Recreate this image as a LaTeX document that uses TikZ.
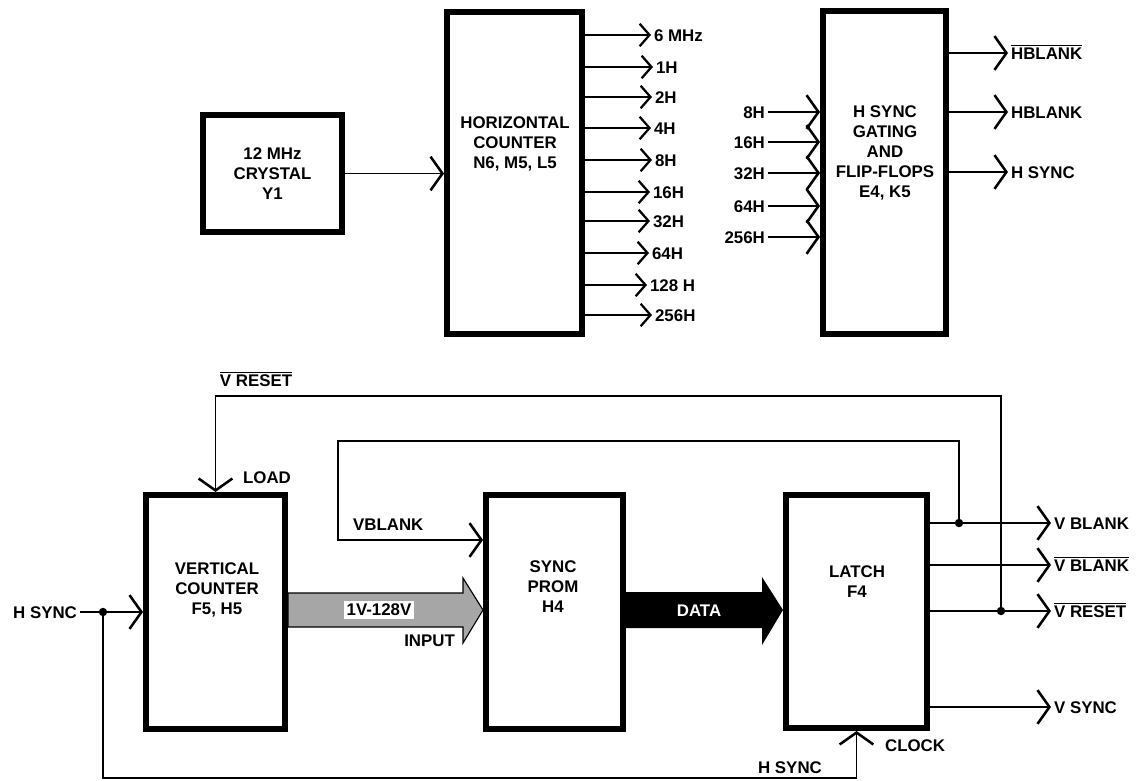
\documentclass[tikz,border=0pt]{standalone}
\usepackage{fontspec}
\setmainfont{Liberation Sans}
\usepackage{tikz}
\usetikzlibrary{arrows.meta}
\newcommand{\ovl}[1]{$\overline{\hbox{#1}}$}

\begin{document}
\begin{tikzpicture}[x=0.025cm,y=-0.025cm,
	every node/.style={font=\fontsize{12}{14.2}\selectfont\bfseries},
	blk/.style={draw=black,line width=4.2pt,inner sep=0pt,align=center},
	txt/.style={align=center,inner sep=0pt},
	lbl/.style={text height=8.6pt,text depth=0pt,inner sep=2pt},
	wire/.style={line width=1.2pt},
	tip/.style={wire,-{Straight Barb[length=8.5pt,width=24pt,line width=1.8pt]}},
	stip/.style={wire,-{Straight Barb[length=7pt,width=16pt,line width=1.6pt]}},
	dot/.style={circle,fill=black,inner sep=0pt,minimum size=6pt}]
	\useasboundingbox (0,0) rectangle (1136,781);

	\node[blk,minimum width=3.475cm,minimum height=2.925cm] (xtal) at (272.5,173.5) {12 MHz\\CRYSTAL\\Y1};
	\node[blk,minimum width=3.375cm,minimum height=8.05cm] (hc) at (514.5,173) {};
	\node[txt] (hct) at (515,144) {HORIZONTAL\\COUNTER\\N6, M5, L5};
	\node[blk,minimum width=3.075cm,minimum height=8.075cm] (hsg) at (884.5,172.5) {};
	\node[txt] (hsgt) at (885,153) {H SYNC\\GATING\\AND\\FLIP-FLOPS\\E4, K5};
	\node[blk,minimum width=3.475cm,minimum height=5.85cm] (vc) at (215.5,612) {};
	\node[txt] (vct) at (217,590) {VERTICAL\\COUNTER\\F5, H5};
	\node[blk,minimum width=3.425cm,minimum height=5.85cm] (prom) at (554.5,612) {};
	\node[txt] (promt) at (553,587) {SYNC\\PROM\\H4};
	\node[blk,minimum width=3.525cm,minimum height=5.825cm] (latch) at (856.5,611.5) {};
	\node[txt] (latcht) at (857,582) {LATCH\\F4};

	\path [tip] (xtal.east) edge (xtal.east -| hc.west);

	\node[lbl,anchor=west] (o6) at (651,35) {6 MHz};
	\node[lbl,anchor=west] (o1) at (653,67) {1H};
	\node[lbl,anchor=west] (o2) at (652,97) {2H};
	\node[lbl,anchor=west] (o4) at (651,128) {4H};
	\node[lbl,anchor=west] (o8) at (652,160) {8H};
	\node[lbl,anchor=west] (o16) at (650,192) {16H};
	\node[lbl,anchor=west] (o32) at (650,221) {32H};
	\node[lbl,anchor=west] (o64) at (649,253) {64H};
	\node[lbl,anchor=west] (o128) at (647,285) {128 H};
	\node[lbl,anchor=west] (o256) at (652,315) {256H};
	\path [stip] (o6 -| hc.east) edge (o6.west);
	\path [stip] (o1 -| hc.east) edge (o1.west);
	\path [stip] (o2 -| hc.east) edge (o2.west);
	\path [stip] (o4 -| hc.east) edge (o4.west);
	\path [stip] (o8 -| hc.east) edge (o8.west);
	\path [stip] (o16 -| hc.east) edge (o16.west);
	\path [stip] (o32 -| hc.east) edge (o32.west);
	\path [stip] (o64 -| hc.east) edge (o64.west);
	\path [stip] (o128 -| hc.east) edge (o128.west);
	\path [stip] (o256 -| hc.east) edge (o256.west);

	\node[lbl,anchor=east] (i8) at (768,112) {8H};
	\node[lbl,anchor=east] (i16) at (768,142) {16H};
	\node[lbl,anchor=east] (i32) at (768,173) {32H};
	\node[lbl,anchor=east] (i64) at (768,206) {64H};
	\node[lbl,anchor=east] (i256) at (768,237) {256H};
	\path [tip] (i8.east) edge (i8 -| hsg.west);
	\path [tip] (i16.east) edge (i16 -| hsg.west);
	\path [tip] (i32.east) edge (i32 -| hsg.west);
	\path [tip] (i64.east) edge (i64 -| hsg.west);
	\path [tip] (i256.east) edge (i256 -| hsg.west);

	\node[lbl,anchor=west] (hb) at (1008,53) {\ovl{HBLANK}};
	\node[lbl,anchor=west] (hbn) at (1008,112) {HBLANK};
	\node[lbl,anchor=west] (hs) at (1008,172) {H SYNC};
	\path [tip] (hb -| hsg.east) edge (hb.west);
	\path [tip] (hbn -| hsg.east) edge (hbn.west);
	\path [tip] (hs -| hsg.east) edge (hs.west);

	\draw[line width=0.8pt,fill=black!35] (288,593) -- (463,593) -- (463,578) -- (483,610) -- (463,643) -- (463,627) -- (288,627) -- cycle;
	\node[fill=white,inner sep=2pt] (bus) at (379,610) {1V-128V};
	\node[lbl,anchor=east] (inp) at (458,640) {INPUT};
	\fill (626,592) -- (762,592) -- (762,577) -- (783,610) -- (762,645) -- (762,628) -- (626,628) -- cycle;
	\node[text=white] (data) at (699,611) {DATA};

	\node[lbl,anchor=west] (vb) at (1051,523) {V BLANK};
	\node[lbl,anchor=west] (vbn) at (1051,565) {\ovl{V BLANK}};
	\node[lbl,anchor=west] (vr) at (1051,611) {\ovl{V RESET}};
	\node[lbl,anchor=west] (vs) at (1051,707) {V SYNC};
	\path [tip] (vb -| latch.east) edge (vb.west);
	\path [tip] (vbn -| latch.east) edge (vbn.west);
	\path [tip] (vr -| latch.east) edge (vr.west);
	\path [tip] (vs -| latch.east) edge (vs.west);

	\node[dot] (d1) at (959,523) {};
	\node[dot] (d2) at (1001,611) {};
	\node[dot] (d0) at (103,612) {};
	\coordinate (vrtop) at (1001,396);
	\coordinate (vbtop) at (338,441);
	\coordinate (vbin) at (338,540);
	\coordinate (bot) at (103,778);

	\node[lbl] (vrl) at (256,380) {\ovl{V RESET}};
	\node[lbl,anchor=west] (load) at (240,477) {LOAD};
	\node[lbl,anchor=west] (vbl) at (350,524) {VBLANK};
	\node[lbl,anchor=east] (hsi) at (80,612) {H SYNC};
	\node[lbl] (hsb) at (790,767) {H SYNC};
	\node[lbl,anchor=west] (clk) at (882,745) {CLOCK};

	\draw[tip] (d2.center) -- (vrtop) -| (vc.north);
	\draw[tip] (d1.center) |- (vbtop) -- (vbin) -- (vbin -| prom.west);
	\draw[tip] (hsi.east) -- (hsi -| vc.west);
	\draw[tip] (d0.center) -- (bot) -| (latch.south);
\end{tikzpicture}
\end{document}
